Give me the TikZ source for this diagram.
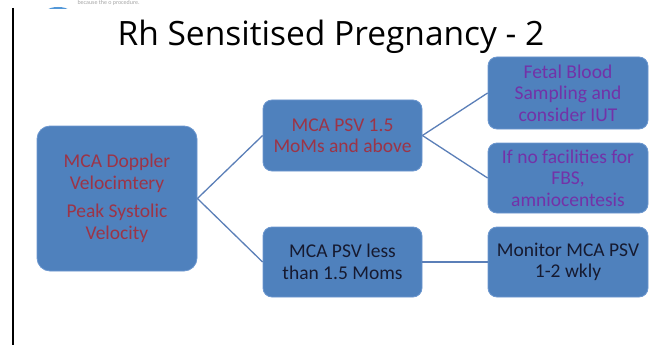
\documentclass[tikz,border=0pt]{standalone}
\usepackage{fontspec}
\setmainfont{Carlito}
\newfontfamily\titlefont{Open Sans}
\definecolor{boxblue}{HTML}{4F81BD}
\definecolor{boxedge}{HTML}{6C97CF}
\definecolor{linkblue}{HTML}{5B7FB8}
\definecolor{txtred}{HTML}{9C3447}
\definecolor{txtpurple}{HTML}{7332A8}
\definecolor{txtdark}{HTML}{161A30}
\tikzset{
  box/.style={draw=boxedge, line width=0.8pt, fill=boxblue, rounded corners=9pt,
    align=center, inner sep=0pt, font=\fontsize{19.5}{21.5}\selectfont},
  link/.style={draw=linkblue, line width=1.3pt}
}
\begin{document}
\begin{tikzpicture}[x=1pt,y=-1pt]
\useasboundingbox[fill=white] (0,0) rectangle (662,345);
% left frame bar
\draw[line width=1.5pt] (13,8) -- (13,345);
% cut-off header remnants
\begin{scope}
\clip (0,0) rectangle (662,9);
\fill[cyan!60!blue!70] (58,10) ellipse (10pt and 3pt);
\node[anchor=west, text=gray!70, font=\fontsize{6}{7}\selectfont] (hdr) at (74,3) {because the o procedure.};
\end{scope}
% title
\node[font=\titlefont\fontsize{33.5}{36}\selectfont, text=black] (title) at (331,37) {Rh Sensitised Pregnancy - 2};
% boxes
\node[box, rounded corners=13pt, minimum width=160pt, minimum height=145pt, text=txtred] (root) at (117,198.5)
  {MCA Doppler\\ Velocimtery\\[7pt] Peak Systolic\\ Velocity};
\node[box, minimum width=159pt, minimum height=71pt, text=txtred] (hi) at (342.5,135.5)
  {MCA PSV 1.5\\ MoMs and above};
\node[box, minimum width=159pt, minimum height=70pt, text=txtdark] (lo) at (342.5,262)
  {MCA PSV less\\ than 1.5 Moms};
\node[box, minimum width=160pt, minimum height=72pt, text=txtpurple] (fbs) at (568,93)
  {Fetal Blood\\ Sampling and\\ consider IUT};
\node[box, minimum width=160pt, minimum height=70pt, text=txtpurple] (amnio) at (568,178)
  {If no facilities for\\ FBS,\\ amniocentesis};
\node[box, minimum width=160pt, minimum height=70pt, text=txtdark] (mon) at (568,262)
  {Monitor MCA PSV\\ 1-2 wkly};
% connectors
\draw[link] (root.east) -- (hi.west);
\draw[link] (root.east) -- (lo.west);
\draw[link] (hi.east) -- (fbs.west);
\draw[link] (hi.east) -- (amnio.west);
\draw[link] (lo.east) -- (mon.west);
\end{tikzpicture}
\end{document}
